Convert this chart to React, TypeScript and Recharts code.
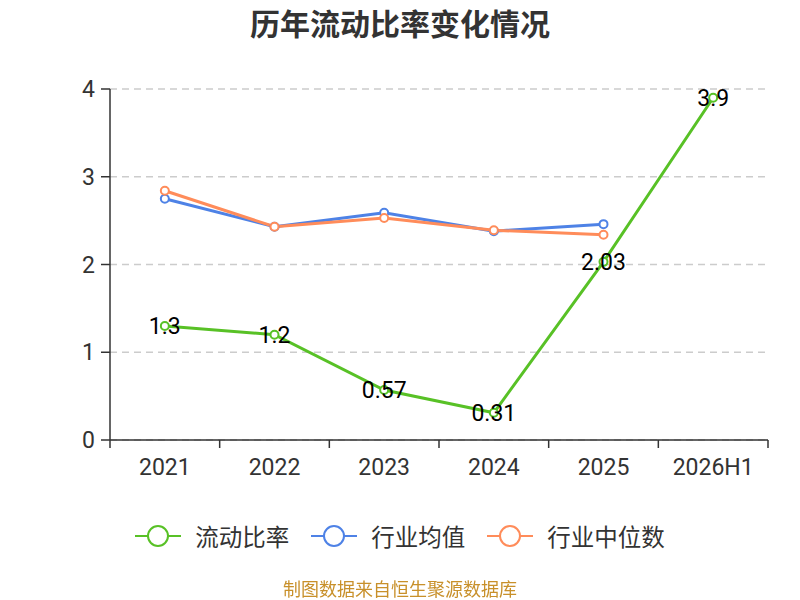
import React from "react";
import { LineChart, Line, XAxis, YAxis, CartesianGrid, LabelList } from "recharts";

const categories = ["2021", "2022", "2023", "2024", "2025", "2026H1"];
const currentRatio = [1.3, 1.2, 0.57, 0.31, 2.03, 3.9];
const industryMean = [2.75, 2.43, 2.59, 2.38, 2.46, null];
const industryMedian = [2.84, 2.43, 2.53, 2.39, 2.34, null];
const yTicks = [0, 1, 2, 3, 4];

const series = [
  { key: "mean", name: "行业均值", color: "#4e82e6" },
  { key: "median", name: "行业中位数", color: "#ff8c5a" },
  { key: "ratio", name: "流动比率", color: "#58c126" },
];
const legendOrder = ["ratio", "mean", "median"];

const data = categories.map((c, i) => ({
  name: c,
  ratio: currentRatio[i],
  mean: industryMean[i],
  median: industryMedian[i],
}));

const W = 800;
const H = 600;
const M = { top: 89, right: 32, left: 0, bottom: 120 };
const Y_W = 110;
const BAND = (W - M.right - M.left - Y_W) / categories.length;
const AXIS = "#333333";
const FONT = "Roboto, 'Noto Sans CJK SC', sans-serif";

const XTick = (props: any) => {
  const { x, y, payload, index } = props;
  const last = index === categories.length - 1;
  return (
    <g>
      <line x1={x - BAND / 2} y1={y - 8} x2={x - BAND / 2} y2={y} stroke={AXIS} strokeWidth={1.5} />
      {last && <line x1={x + BAND / 2} y1={y - 8} x2={x + BAND / 2} y2={y} stroke={AXIS} strokeWidth={1.5} />}
      <text x={x} y={y + 19} textAnchor="middle" dominantBaseline="central" fill={AXIS} fontSize={23} fontFamily={FONT}>
        {payload.value}
      </text>
    </g>
  );
};

const PointLabel = (props: any) => {
  const { x, y, value } = props;
  if (value == null) return null;
  return (
    <text x={x} y={y + 1} textAnchor="middle" dominantBaseline="central" fill="#000" fontSize={23} fontFamily={FONT}>
      {value}
    </text>
  );
};

export default function App() {
  return (
    <div style={{ position: "fixed", left: 0, top: 0, width: W, height: H, background: "#fff", fontFamily: FONT }}>
      <div style={{ position: "absolute", top: 3, left: 0, width: W, textAlign: "center", fontSize: 30, fontWeight: 700, color: "#333", lineHeight: "38px", fontFamily: "'Noto Sans CJK SC', sans-serif" }}>
        历年流动比率变化情况
      </div>
      <LineChart width={W} height={H} data={data} margin={M}>
        <CartesianGrid vertical={false} stroke="#cccccc" strokeDasharray="7 5" strokeWidth={1.5} />
        <XAxis
          dataKey="name"
          tick={<XTick />}
          tickLine={false}
          axisLine={{ stroke: AXIS, strokeWidth: 1.5 }}
          interval={0}
          height={40}
          padding={{ left: BAND / 2, right: BAND / 2 }}
        />
        <YAxis
          width={Y_W}
          domain={[0, 4]}
          ticks={yTicks}
          tickSize={9}
          tickMargin={6}
          tickLine={{ stroke: AXIS, strokeWidth: 1.5 }}
          axisLine={{ stroke: AXIS, strokeWidth: 1.5 }}
          tick={{ fill: AXIS, fontSize: 23, fontFamily: FONT }}
        />
        {series.map((s) => (
          <Line
            key={s.key}
            dataKey={s.key}
            name={s.name}
            stroke={s.color}
            strokeWidth={3}
            dot={{ r: 4, fill: "#fff", stroke: s.color, strokeWidth: 2 }}
            activeDot={false}
            isAnimationActive={false}
            connectNulls={false}
          >
            {s.key === "ratio" && <LabelList dataKey={s.key} content={<PointLabel />} />}
          </Line>
        ))}
      </LineChart>
      <div style={{ position: "absolute", top: 518, left: 0, width: W, display: "flex", justifyContent: "center", alignItems: "center", gap: 22 }}>
        {legendOrder.map((k) => {
          const s = series.find((x) => x.key === k)!;
          return (
            <div key={k} style={{ display: "flex", alignItems: "center" }}>
              <svg width={46} height={36}>
                <line x1={0} y1={18} x2={46} y2={18} stroke={s.color} strokeWidth={2} />
                <circle cx={23} cy={18} r={10} fill="#fff" stroke={s.color} strokeWidth={2} />
              </svg>
              <span style={{ marginLeft: 14, fontSize: 23.5, color: "#333", fontFamily: "'Noto Sans CJK SC', sans-serif" }}>{s.name}</span>
            </div>
          );
        })}
      </div>
      <div style={{ position: "absolute", top: 576, left: 0, width: W, textAlign: "center", fontSize: 18, color: "#c8902a", fontFamily: "'Noto Sans CJK SC', sans-serif", lineHeight: "24px" }}>
        制图数据来自恒生聚源数据库
      </div>
    </div>
  );
}
